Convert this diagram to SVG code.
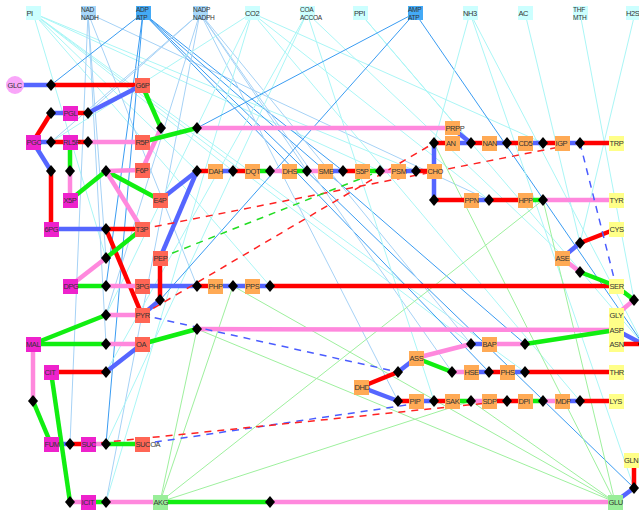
<svg xmlns="http://www.w3.org/2000/svg" width="639" height="510" viewBox="0 0 639 510">
<style>
.e{stroke-width:4.5;fill:none;stroke-linecap:butt}
.r{stroke:#ff0000}.b{stroke:#5566ff}.g{stroke:#11ee11}.p{stroke:#ff88dd}
.dr,.db,.dg{stroke-width:1.5;stroke-dasharray:7 6;fill:none}
.dr{stroke:#ff2222}.db{stroke:#4a5cff}.dg{stroke:#22dd22}
.tc{stroke:#aaf6f6;stroke-width:1}
.tl{stroke:#a6d2f6;stroke-width:1}
.tb{stroke:#3a9cf2;stroke-width:1}
.tg{stroke:#9ef09e;stroke-width:1}
text{font-family:"Liberation Sans",Arial,sans-serif;font-size:7.5px;letter-spacing:-0.4px;fill:#333}
text.two{font-size:6.6px;letter-spacing:-0.3px}
.m{fill:#ee22cc}.s{fill:#ff6655}.o{fill:#ffaa55}.y{fill:#ffff88}.lg{fill:#99ee99}
.cc{fill:#ccffff}.cl{fill:#a8d8fa}.cb{fill:#44aaf6}
</style>
<defs>
<polygon id="dm" points="0,-6 5,0 0,6 -5,0"/>
</defs>
<g id="connectors">
<g>
<line class="tc" x1="33" y1="13" x2="106" y2="258"/>
<line class="tc" x1="33" y1="13" x2="380" y2="171"/>
<line class="tc" x1="33" y1="13" x2="416" y2="171"/>
<line class="tc" x1="33" y1="13" x2="197" y2="171"/>
<line class="tc" x1="33" y1="13" x2="233" y2="171"/>
<line class="tc" x1="33" y1="13" x2="270" y2="286"/>
<line class="tc" x1="33" y1="13" x2="525" y2="372"/>
<line class="tc" x1="33" y1="13" x2="471" y2="344"/>
<line class="tl" x1="88" y1="13" x2="106" y2="258"/>
<line class="tl" x1="88" y1="13" x2="106" y2="344"/>
<line class="tl" x1="88" y1="13" x2="70" y2="444"/>
<line class="tl" x1="88" y1="13" x2="197" y2="286"/>
<line class="tl" x1="88" y1="13" x2="489" y2="200"/>
<line class="tb" x1="143" y1="13" x2="51" y2="85"/>
<line class="tb" x1="143" y1="13" x2="106" y2="286"/>
<line class="tb" x1="143" y1="13" x2="106" y2="444"/>
<line class="tb" x1="143" y1="13" x2="343" y2="171"/>
<line class="tb" x1="143" y1="13" x2="525" y2="344"/>
<line class="tb" x1="143" y1="13" x2="489" y2="372"/>
<line class="tb" x1="143" y1="13" x2="634" y2="488"/>
<line class="tl" x1="200" y1="13" x2="88" y2="113"/>
<line class="tl" x1="200" y1="13" x2="51" y2="142"/>
<line class="tl" x1="200" y1="13" x2="307" y2="171"/>
<line class="tl" x1="200" y1="13" x2="106" y2="315"/>
<line class="tl" x1="200" y1="13" x2="106" y2="502"/>
<line class="tl" x1="200" y1="13" x2="471" y2="344"/>
<line class="tl" x1="200" y1="13" x2="452" y2="372"/>
<line class="tl" x1="200" y1="13" x2="398" y2="401"/>
<line class="tc" x1="252" y1="13" x2="51" y2="142"/>
<line class="tc" x1="252" y1="13" x2="106" y2="315"/>
<line class="tc" x1="252" y1="13" x2="106" y2="502"/>
<line class="tc" x1="252" y1="13" x2="543" y2="143"/>
<line class="tc" x1="252" y1="13" x2="489" y2="200"/>
<line class="tc" x1="252" y1="13" x2="580" y2="401"/>
<line class="tc" x1="307" y1="13" x2="106" y2="372"/>
<line class="tc" x1="307" y1="13" x2="106" y2="444"/>
<line class="tc" x1="307" y1="13" x2="580" y2="272"/>
<line class="tc" x1="307" y1="13" x2="434" y2="401"/>
<line class="tc" x1="360" y1="13" x2="471" y2="143"/>
<line class="tc" x1="360" y1="13" x2="643" y2="344"/>
<line class="tb" x1="415" y1="13" x2="197" y2="128"/>
<line class="tb" x1="415" y1="13" x2="160" y2="300"/>
<line class="tb" x1="415" y1="13" x2="643" y2="344"/>
<line class="tc" x1="470" y1="13" x2="634" y2="488"/>
<line class="tc" x1="470" y1="13" x2="643" y2="344"/>
<line class="tc" x1="470" y1="13" x2="434" y2="143"/>
<line class="tc" x1="525" y1="13" x2="580" y2="243"/>
<line class="tc" x1="580" y1="13" x2="634" y2="300"/>
<line class="tc" x1="635" y1="13" x2="580" y2="243"/>
<line class="tg" x1="160" y1="502" x2="197" y2="329"/>
<line class="tg" x1="160" y1="502" x2="233" y2="286"/>
<line class="tg" x1="160" y1="502" x2="543" y2="200"/>
<line class="tg" x1="160" y1="502" x2="471" y2="401"/>
<line class="tg" x1="615" y1="502" x2="197" y2="329"/>
<line class="tg" x1="615" y1="502" x2="233" y2="286"/>
<line class="tg" x1="615" y1="502" x2="543" y2="200"/>
<line class="tg" x1="615" y1="502" x2="471" y2="401"/>
<line class="tg" x1="615" y1="502" x2="434" y2="143"/>
</g>
<g>
<line class="e b" x1="15" y1="85" x2="51" y2="85"/><line class="e r" x1="51" y1="85" x2="142" y2="85"/>
<line class="e r" x1="51" y1="113" x2="33" y2="142"/><line class="e b" x1="51" y1="113" x2="70" y2="113"/>
<line class="e r" x1="70" y1="113" x2="88" y2="113"/><line class="e b" x1="88" y1="113" x2="142" y2="85"/>
<line class="e b" x1="33" y1="142" x2="51" y2="142"/><line class="e r" x1="51" y1="142" x2="70" y2="142"/>
<line class="e r" x1="70" y1="142" x2="88" y2="142"/><line class="e p" x1="88" y1="142" x2="142" y2="142"/>
<line class="e g" x1="142" y1="85" x2="161" y2="128"/><line class="e p" x1="161" y1="128" x2="142" y2="170"/>
<line class="e g" x1="142" y1="142" x2="197" y2="128"/><line class="e p" x1="197" y1="128" x2="452" y2="128"/>
<line class="e b" x1="33" y1="142" x2="51" y2="171"/><line class="e r" x1="51" y1="171" x2="51" y2="229"/>
<line class="e g" x1="70" y1="142" x2="70" y2="171"/><line class="e p" x1="70" y1="171" x2="70" y2="200"/>
<line class="e g" x1="70" y1="200" x2="106" y2="171"/><line class="e g" x1="106" y1="171" x2="160" y2="200"/>
<line class="e p" x1="106" y1="171" x2="142" y2="170"/><line class="e p" x1="106" y1="171" x2="142" y2="229"/>
<line class="e b" x1="160" y1="200" x2="197" y2="171"/><line class="e b" x1="160" y1="258" x2="197" y2="171"/>
<line class="e r" x1="197" y1="171" x2="215" y2="171"/>
<line class="e b" x1="215" y1="171" x2="233" y2="171"/><line class="e r" x1="233" y1="171" x2="252" y2="171"/>
<line class="e g" x1="252" y1="171" x2="270" y2="171"/><line class="e p" x1="270" y1="171" x2="289" y2="171"/>
<line class="e g" x1="289" y1="171" x2="307" y2="171"/><line class="e p" x1="307" y1="171" x2="325" y2="171"/>
<line class="e b" x1="325" y1="171" x2="343" y2="171"/><line class="e r" x1="343" y1="171" x2="362" y2="171"/>
<line class="e g" x1="362" y1="171" x2="380" y2="171"/><line class="e p" x1="380" y1="171" x2="398" y2="171"/>
<line class="e b" x1="398" y1="171" x2="416" y2="171"/><line class="e r" x1="416" y1="171" x2="434" y2="171"/>
<line class="e b" x1="434" y1="171" x2="434" y2="143"/><line class="e r" x1="434" y1="143" x2="452" y2="143"/>
<line class="e b" x1="452" y1="143" x2="471" y2="143"/><line class="e b" x1="452" y1="128" x2="471" y2="143"/>
<line class="e r" x1="471" y1="143" x2="489" y2="143"/>
<line class="e b" x1="489" y1="143" x2="507" y2="143"/><line class="e r" x1="507" y1="143" x2="525" y2="143"/>
<line class="e b" x1="525" y1="143" x2="543" y2="143"/><line class="e r" x1="543" y1="143" x2="562" y2="143"/>
<line class="e b" x1="562" y1="143" x2="580" y2="143"/><line class="e r" x1="580" y1="143" x2="616" y2="143"/>
<line class="e b" x1="434" y1="171" x2="434" y2="200"/><line class="e r" x1="434" y1="200" x2="471" y2="200"/>
<line class="e b" x1="471" y1="200" x2="489" y2="200"/><line class="e r" x1="489" y1="200" x2="525" y2="200"/>
<line class="e g" x1="525" y1="200" x2="543" y2="200"/><line class="e p" x1="543" y1="200" x2="616" y2="200"/>
<line class="e b" x1="51" y1="229" x2="106" y2="229"/><line class="e r" x1="106" y1="229" x2="142" y2="229"/>
<line class="e r" x1="106" y1="229" x2="142" y2="315"/>
<line class="e g" x1="142" y1="229" x2="106" y2="258"/><line class="e p" x1="106" y1="258" x2="70" y2="286"/>
<line class="e g" x1="70" y1="286" x2="106" y2="286"/><line class="e p" x1="106" y1="286" x2="142" y2="286"/>
<line class="e b" x1="142" y1="286" x2="197" y2="286"/><line class="e r" x1="197" y1="286" x2="215" y2="286"/>
<line class="e b" x1="215" y1="286" x2="233" y2="286"/><line class="e b" x1="233" y1="286" x2="252" y2="286"/>
<line class="e b" x1="252" y1="286" x2="270" y2="286"/><line class="e r" x1="270" y1="286" x2="616" y2="286"/>
<line class="e r" x1="160" y1="258" x2="160" y2="300"/><line class="e b" x1="160" y1="300" x2="142" y2="315"/>
<line class="e g" x1="33" y1="344" x2="106" y2="315"/><line class="e p" x1="106" y1="315" x2="142" y2="315"/>
<line class="e g" x1="33" y1="344" x2="106" y2="344"/><line class="e p" x1="106" y1="344" x2="142" y2="344"/>
<line class="e b" x1="142" y1="344" x2="106" y2="372"/><line class="e r" x1="106" y1="372" x2="51" y2="372"/>
<line class="e g" x1="142" y1="344" x2="197" y2="329"/><line class="e p" x1="197" y1="329" x2="616" y2="330"/>
<line class="e b" x1="562" y1="258" x2="580" y2="243"/><line class="e r" x1="580" y1="243" x2="616" y2="229"/>
<line class="e p" x1="562" y1="258" x2="580" y2="272"/><line class="e g" x1="580" y1="272" x2="616" y2="286"/>
<line class="e g" x1="616" y1="286" x2="634" y2="300"/><line class="e p" x1="634" y1="300" x2="616" y2="315"/>
<line class="e b" x1="616" y1="330" x2="643" y2="344"/><line class="e r" x1="643" y1="344" x2="616" y2="344"/>
<line class="e p" x1="416" y1="358" x2="471" y2="344"/><line class="e b" x1="471" y1="344" x2="489" y2="344"/>
<line class="e p" x1="489" y1="344" x2="525" y2="344"/><line class="e g" x1="525" y1="344" x2="616" y2="330"/>
<line class="e g" x1="416" y1="358" x2="452" y2="372"/><line class="e p" x1="452" y1="372" x2="471" y2="372"/>
<line class="e b" x1="471" y1="372" x2="489" y2="372"/><line class="e r" x1="489" y1="372" x2="507" y2="372"/>
<line class="e b" x1="507" y1="372" x2="525" y2="372"/><line class="e r" x1="525" y1="372" x2="616" y2="372"/>
<line class="e r" x1="361" y1="387" x2="398" y2="372"/><line class="e b" x1="398" y1="372" x2="416" y2="358"/>
<line class="e b" x1="361" y1="387" x2="398" y2="401"/><line class="e r" x1="398" y1="401" x2="416" y2="401"/>
<line class="e b" x1="416" y1="401" x2="434" y2="401"/><line class="e r" x1="434" y1="401" x2="452" y2="401"/>
<line class="e g" x1="452" y1="401" x2="471" y2="401"/><line class="e p" x1="471" y1="401" x2="489" y2="401"/>
<line class="e r" x1="489" y1="401" x2="507" y2="401"/><line class="e r" x1="507" y1="401" x2="525" y2="401"/>
<line class="e g" x1="525" y1="401" x2="543" y2="401"/><line class="e p" x1="543" y1="401" x2="562" y2="401"/>
<line class="e b" x1="562" y1="401" x2="580" y2="401"/><line class="e r" x1="580" y1="401" x2="616" y2="401"/>
<line class="e g" x1="51" y1="444" x2="33" y2="401"/><line class="e p" x1="33" y1="401" x2="33" y2="344"/>
<line class="e b" x1="51" y1="444" x2="70" y2="444"/><line class="e r" x1="70" y1="444" x2="88" y2="444"/>
<line class="e p" x1="88" y1="444" x2="106" y2="444"/><line class="e g" x1="106" y1="444" x2="142" y2="444"/>
<line class="e g" x1="51" y1="372" x2="70" y2="502"/><line class="e p" x1="70" y1="502" x2="88" y2="502"/>
<line class="e g" x1="88" y1="502" x2="106" y2="502"/><line class="e p" x1="106" y1="502" x2="160" y2="502"/>
<line class="e g" x1="160" y1="502" x2="270" y2="502"/><line class="e p" x1="270" y1="502" x2="615" y2="502"/>
<line class="e b" x1="615" y1="502" x2="634" y2="488"/><line class="e r" x1="634" y1="488" x2="634" y2="460"/>
</g>
<g>
<line class="dr" x1="142" y1="229" x2="580" y2="143"/>
<line class="dr" x1="142" y1="315" x2="434" y2="143"/>
<line class="dg" x1="160" y1="258" x2="380" y2="171"/>
<line class="db" x1="142" y1="315" x2="398" y2="372"/>
<line class="db" x1="142" y1="444" x2="434" y2="401"/>
<line class="dr" x1="88" y1="444" x2="507" y2="401"/>
<line class="db" x1="580" y1="143" x2="616" y2="286"/>
</g>
</g>
<g id="reactions">
<use href="#dm" x="51" y="85"/><use href="#dm" x="51" y="113"/><use href="#dm" x="88" y="113"/>
<use href="#dm" x="51" y="142"/><use href="#dm" x="88" y="142"/><use href="#dm" x="161" y="128"/>
<use href="#dm" x="197" y="128"/><use href="#dm" x="51" y="171"/><use href="#dm" x="70" y="171"/>
<use href="#dm" x="106" y="171"/><use href="#dm" x="197" y="171"/><use href="#dm" x="233" y="171"/>
<use href="#dm" x="270" y="171"/><use href="#dm" x="307" y="171"/><use href="#dm" x="343" y="171"/>
<use href="#dm" x="380" y="171"/><use href="#dm" x="416" y="171"/><use href="#dm" x="434" y="143"/>
<use href="#dm" x="471" y="143"/><use href="#dm" x="507" y="143"/><use href="#dm" x="543" y="143"/>
<use href="#dm" x="580" y="143"/><use href="#dm" x="434" y="200"/><use href="#dm" x="489" y="200"/>
<use href="#dm" x="543" y="200"/><use href="#dm" x="106" y="229"/><use href="#dm" x="106" y="258"/>
<use href="#dm" x="106" y="286"/><use href="#dm" x="197" y="286"/><use href="#dm" x="233" y="286"/>
<use href="#dm" x="270" y="286"/><use href="#dm" x="160" y="300"/><use href="#dm" x="106" y="315"/>
<use href="#dm" x="106" y="344"/><use href="#dm" x="106" y="372"/><use href="#dm" x="197" y="329"/>
<use href="#dm" x="580" y="243"/><use href="#dm" x="580" y="272"/><use href="#dm" x="634" y="300"/>
<use href="#dm" x="471" y="344"/><use href="#dm" x="525" y="344"/><use href="#dm" x="452" y="372"/>
<use href="#dm" x="489" y="372"/><use href="#dm" x="525" y="372"/><use href="#dm" x="398" y="372"/>
<use href="#dm" x="398" y="401"/><use href="#dm" x="434" y="401"/><use href="#dm" x="471" y="401"/>
<use href="#dm" x="507" y="401"/><use href="#dm" x="543" y="401"/><use href="#dm" x="580" y="401"/>
<use href="#dm" x="33" y="401"/><use href="#dm" x="70" y="444"/><use href="#dm" x="106" y="444"/>
<use href="#dm" x="70" y="502"/><use href="#dm" x="106" y="502"/><use href="#dm" x="270" y="502"/>
<use href="#dm" x="634" y="488"/><use href="#dm" x="643" y="344"/>
</g>
<g id="PI"><rect class="cc" x="26" y="6" width="15" height="14"/><text x="26.5" y="16">PI</text></g>
<g id="NAD"><rect class="cl" x="81" y="6" width="15" height="14"/><text class="two" x="81" y="12">NAD</text><text class="two" x="81" y="19.6">NADH</text></g>
<g id="ADP"><rect class="cb" x="136" y="6" width="15" height="14"/><text class="two" x="136" y="12">ADP</text><text class="two" x="136" y="19.6">ATP</text></g>
<g id="NADP"><rect class="cl" x="193" y="6" width="15" height="14"/><text class="two" x="193" y="12">NADP</text><text class="two" x="193" y="19.6">NADPH</text></g>
<g id="CO2"><rect class="cc" x="245" y="6" width="15" height="14"/><text x="245" y="16">CO2</text></g>
<g id="COA"><rect class="cc" x="300" y="6" width="15" height="14"/><text class="two" x="300" y="12">COA</text><text class="two" x="300" y="19.6">ACCOA</text></g>
<g id="PPI"><rect class="cc" x="353" y="6" width="15" height="14"/><text x="354" y="16">PPI</text></g>
<g id="AMP"><rect class="cb" x="408" y="6" width="15" height="14"/><text class="two" x="408" y="12">AMP</text><text class="two" x="408" y="19.6">ATP</text></g>
<g id="NH3"><rect class="cc" x="463" y="6" width="15" height="14"/><text x="463" y="16">NH3</text></g>
<g id="AC"><rect class="cc" x="518" y="6" width="15" height="14"/><text x="518.5" y="16">AC</text></g>
<g id="THF"><rect class="cc" x="573" y="6" width="15" height="14"/><text class="two" x="573" y="12">THF</text><text class="two" x="573" y="19.6">MTH</text></g>
<g id="H2S"><rect class="cc" x="626" y="6" width="15" height="14"/><text x="626" y="16">H2S</text></g>
<g id="GLC"><circle cx="15" cy="85" r="9" fill="#f9a6f9"/><text x="7.5" y="88">GLC</text></g>
<g id="G6P"><rect class="s" x="135" y="78" width="15" height="15"/><text x="135.5" y="88">G6P</text></g>
<g id="PGL"><rect class="m" x="63" y="106" width="15" height="15"/><text x="63.5" y="116">PGL</text></g>
<g id="PGC"><rect class="m" x="26" y="135" width="15" height="15"/><text x="26.5" y="145">PGC</text></g>
<g id="RL5P"><rect class="m" x="63" y="135" width="15" height="15"/><text x="63" y="145">RL5P</text></g>
<g id="R5P"><rect class="s" x="135" y="135" width="15" height="15"/><text x="135.5" y="145">R5P</text></g>
<g id="F6P"><rect class="s" x="135" y="163" width="15" height="15"/><text x="135.5" y="173">F6P</text></g>
<g id="X5P"><rect class="m" x="63" y="193" width="15" height="15"/><text x="63.5" y="203">X5P</text></g>
<g id="E4P"><rect class="s" x="153" y="193" width="15" height="15"/><text x="153.5" y="203">E4P</text></g>
<g id="6PG"><rect class="m" x="44" y="222" width="15" height="15"/><text x="44.5" y="232">6PG</text></g>
<g id="T3P"><rect class="s" x="135" y="222" width="15" height="15"/><text x="135.5" y="232">T3P</text></g>
<g id="PEP"><rect class="s" x="153" y="251" width="15" height="15"/><text x="153.5" y="261">PEP</text></g>
<g id="DPG"><rect class="m" x="63" y="279" width="15" height="15"/><text x="63.5" y="289">DPG</text></g>
<g id="3PG"><rect class="s" x="135" y="279" width="15" height="15"/><text x="135.5" y="289">3PG</text></g>
<g id="PYR"><rect class="s" x="135" y="308" width="15" height="15"/><text x="135.5" y="318">PYR</text></g>
<g id="OA"><rect class="s" x="135" y="337" width="15" height="15"/><text x="136" y="347">OA</text></g>
<g id="MAL"><rect class="m" x="26" y="337" width="15" height="15"/><text x="26" y="347">MAL</text></g>
<g id="CIT"><rect class="m" x="44" y="365" width="15" height="15"/><text x="44.5" y="375">CIT</text></g>
<g id="FUM"><rect class="m" x="44" y="437" width="15" height="15"/><text x="44.5" y="447">FUM</text></g>
<g id="SUC"><rect class="m" x="81" y="437" width="15" height="15"/><text x="81.5" y="447">SUC</text></g>
<g id="SUCOA"><rect class="s" x="135" y="437" width="15" height="15"/><text x="135.5" y="447">SUCOA</text></g>
<g id="ICIT"><rect class="m" x="81" y="495" width="15" height="15"/><text x="81.5" y="505">ICIT</text></g>
<g id="AKG"><rect class="lg" x="153" y="495" width="15" height="15"/><text x="153.5" y="505">AKG</text></g>
<g id="DAH"><rect class="o" x="208" y="164" width="15" height="15"/><text x="208.5" y="174">DAH</text></g>
<g id="DQT"><rect class="o" x="245" y="164" width="15" height="15"/><text x="245.5" y="174">DQT</text></g>
<g id="DHS"><rect class="o" x="282" y="164" width="15" height="15"/><text x="282.5" y="174">DHS</text></g>
<g id="SME"><rect class="o" x="318" y="164" width="15" height="15"/><text x="318.5" y="174">SME</text></g>
<g id="S5P"><rect class="o" x="355" y="164" width="15" height="15"/><text x="355.5" y="174">S5P</text></g>
<g id="PSM"><rect class="o" x="391" y="164" width="15" height="15"/><text x="391.5" y="174">PSM</text></g>
<g id="CHO"><rect class="o" x="427" y="164" width="15" height="15"/><text x="427.5" y="174">CHO</text></g>
<g id="PRPP"><rect class="o" x="445" y="121" width="15" height="14"/><text x="445.5" y="131">PRPP</text></g>
<g id="AN"><rect class="o" x="445" y="136" width="15" height="15"/><text x="446" y="146">AN</text></g>
<g id="NAN"><rect class="o" x="482" y="136" width="15" height="15"/><text x="482.5" y="146">NAN</text></g>
<g id="CD5"><rect class="o" x="518" y="136" width="15" height="15"/><text x="518.5" y="146">CD5</text></g>
<g id="IGP"><rect class="o" x="555" y="136" width="15" height="15"/><text x="555.5" y="146">IGP</text></g>
<g id="TRP"><rect class="y" x="609" y="136" width="15" height="15"/><text x="609.5" y="146">TRP</text></g>
<g id="PPN"><rect class="o" x="464" y="193" width="15" height="15"/><text x="464.5" y="203">PPN</text></g>
<g id="HPP"><rect class="o" x="518" y="193" width="15" height="15"/><text x="518.5" y="203">HPP</text></g>
<g id="TYR"><rect class="y" x="609" y="193" width="15" height="15"/><text x="609.5" y="203">TYR</text></g>
<g id="CYS"><rect class="y" x="609" y="222" width="15" height="15"/><text x="609.5" y="232">CYS</text></g>
<g id="ASE"><rect class="o" x="555" y="251" width="15" height="15"/><text x="555.5" y="261">ASE</text></g>
<g id="SER"><rect class="y" x="609" y="279" width="15" height="15"/><text x="609.5" y="289">SER</text></g>
<g id="GLY"><rect class="y" x="609" y="308" width="15" height="15"/><text x="609.5" y="318">GLY</text></g>
<g id="ASP"><rect class="y" x="609" y="323" width="15" height="15"/><text x="609.5" y="333">ASP</text></g>
<g id="ASN"><rect class="y" x="609" y="337" width="15" height="15"/><text x="609.5" y="347">ASN</text></g>
<g id="THR"><rect class="y" x="609" y="365" width="15" height="15"/><text x="609.5" y="375">THR</text></g>
<g id="LYS"><rect class="y" x="609" y="394" width="15" height="15"/><text x="609.5" y="404">LYS</text></g>
<g id="GLN"><rect class="y" x="624" y="453" width="15" height="15"/><text x="624" y="463">GLN</text></g>
<g id="GLU"><rect class="lg" x="608" y="495" width="15" height="15"/><text x="608.5" y="505">GLU</text></g>
<g id="PHP"><rect class="o" x="208" y="279" width="15" height="15"/><text x="208.5" y="289">PHP</text></g>
<g id="PPS"><rect class="o" x="245" y="279" width="15" height="15"/><text x="245.5" y="289">PPS</text></g>
<g id="BAP"><rect class="o" x="482" y="337" width="15" height="15"/><text x="482.5" y="347">BAP</text></g>
<g id="ASS"><rect class="o" x="409" y="351" width="15" height="15"/><text x="409.5" y="361">ASS</text></g>
<g id="DHD"><rect class="o" x="354" y="380" width="15" height="15"/><text x="354.5" y="390">DHD</text></g>
<g id="PIP"><rect class="o" x="409" y="394" width="15" height="15"/><text x="409.5" y="404">PIP</text></g>
<g id="HSE"><rect class="o" x="464" y="365" width="15" height="15"/><text x="464.5" y="375">HSE</text></g>
<g id="PHS"><rect class="o" x="500" y="365" width="15" height="15"/><text x="500.5" y="375">PHS</text></g>
<g id="SAK"><rect class="o" x="445" y="394" width="15" height="15"/><text x="445.5" y="404">SAK</text></g>
<g id="SDP"><rect class="o" x="482" y="394" width="15" height="15"/><text x="482.5" y="404">SDP</text></g>
<g id="DPI"><rect class="o" x="518" y="394" width="15" height="15"/><text x="518.5" y="404">DPI</text></g>
<g id="MDP"><rect class="o" x="555" y="394" width="15" height="15"/><text x="555.5" y="404">MDP</text></g>
</svg>
